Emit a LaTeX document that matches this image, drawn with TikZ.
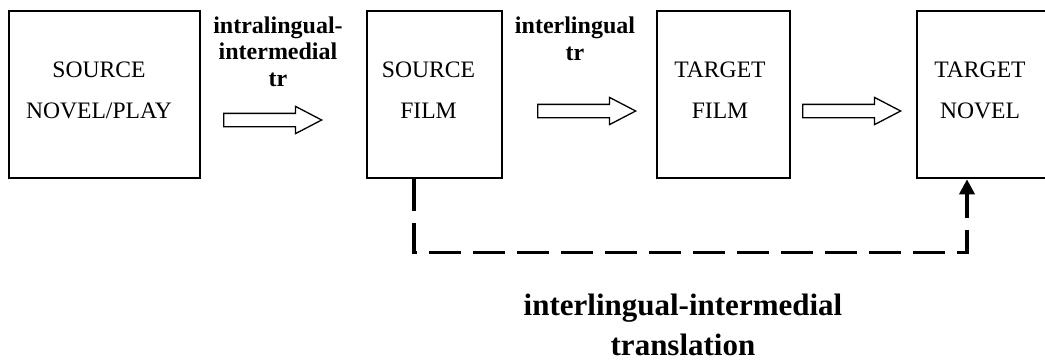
\documentclass[tikz,border=0pt]{standalone}
\usepackage{fontspec}
\setmainfont{Liberation Serif}
\usetikzlibrary{shapes.arrows,arrows.meta,calc}

\begin{document}
\begin{tikzpicture}[x=1pt,y=-1pt,
  stage/.style={draw=black, line width=2.6pt, rectangle, inner sep=0pt},
  % multi-line nodes: the base anchor sits on the last line
  stagetext/.style={font=\fontsize{23.6}{41}\selectfont, align=center, anchor=base, inner sep=0pt},
  trlabel/.style={font=\fontsize{24}{26.5}\selectfont\bfseries, align=center, anchor=base, inner sep=0pt},
  biglabel/.style={font=\fontsize{31}{40}\selectfont\bfseries, align=center, anchor=base, inner sep=0pt},
  blockarrow/.style={single arrow, draw=black, line width=1.3pt, fill=white,
    minimum height=98pt, minimum width=0pt, inner xsep=0pt, inner ysep=6pt,
    single arrow head extend=7pt, single arrow tip angle=55, anchor=tail},
  dashline/.style={line width=3.6pt, dash pattern=on 32pt off 12pt,
    -{Triangle[length=15pt,width=15pt]}}
]
% canvas
\fill[white] (0,0) rectangle (1045,360);
\useasboundingbox (0,0) rectangle (1045,360);

% stages
\node[stage, minimum width=191pt, minimum height=167pt] (sn) at (104.5,94.5) {};
\node[stage, minimum width=135pt, minimum height=167pt] (sf) at (434.5,94.5) {};
\node[stage, minimum width=133pt, minimum height=167pt] (tf) at (723.5,94.5) {};
\node[stage, minimum width=135pt, minimum height=167pt] (tn) at (984.5,94.5) {};

% stage captions
\node[stagetext] (snt) at (99,118) {SOURCE\\NOVEL/PLAY};
\node[stagetext] (sft) at (428.5,118) {SOURCE\\FILM};
\node[stagetext] (tft) at (720,118) {TARGET\\FILM};
\node[stagetext] (tnt) at (980,118) {TARGET\\NOVEL};

% hollow block arrows between the stages
\node[blockarrow] (a1) at (223,120) {};
\node[blockarrow] (a2) at (537,111) {};
\node[blockarrow] (a3) at (802,111) {};

% arrow labels
\node[trlabel] (l1) at (278,86) {intralingual-\\intermedial\\tr};
\node[trlabel] (l2) at (575,60) {interlingual\\tr};

% dashed route from the source film to the target novel
\draw[dashline] ([xshift=-20.5pt]sf.south) -- ++(0,73) -| ([xshift=-17.5pt]tn.south);
\node[biglabel] (l3) at (683,355) {interlingual-intermedial\\translation};
\end{tikzpicture}
\end{document}
